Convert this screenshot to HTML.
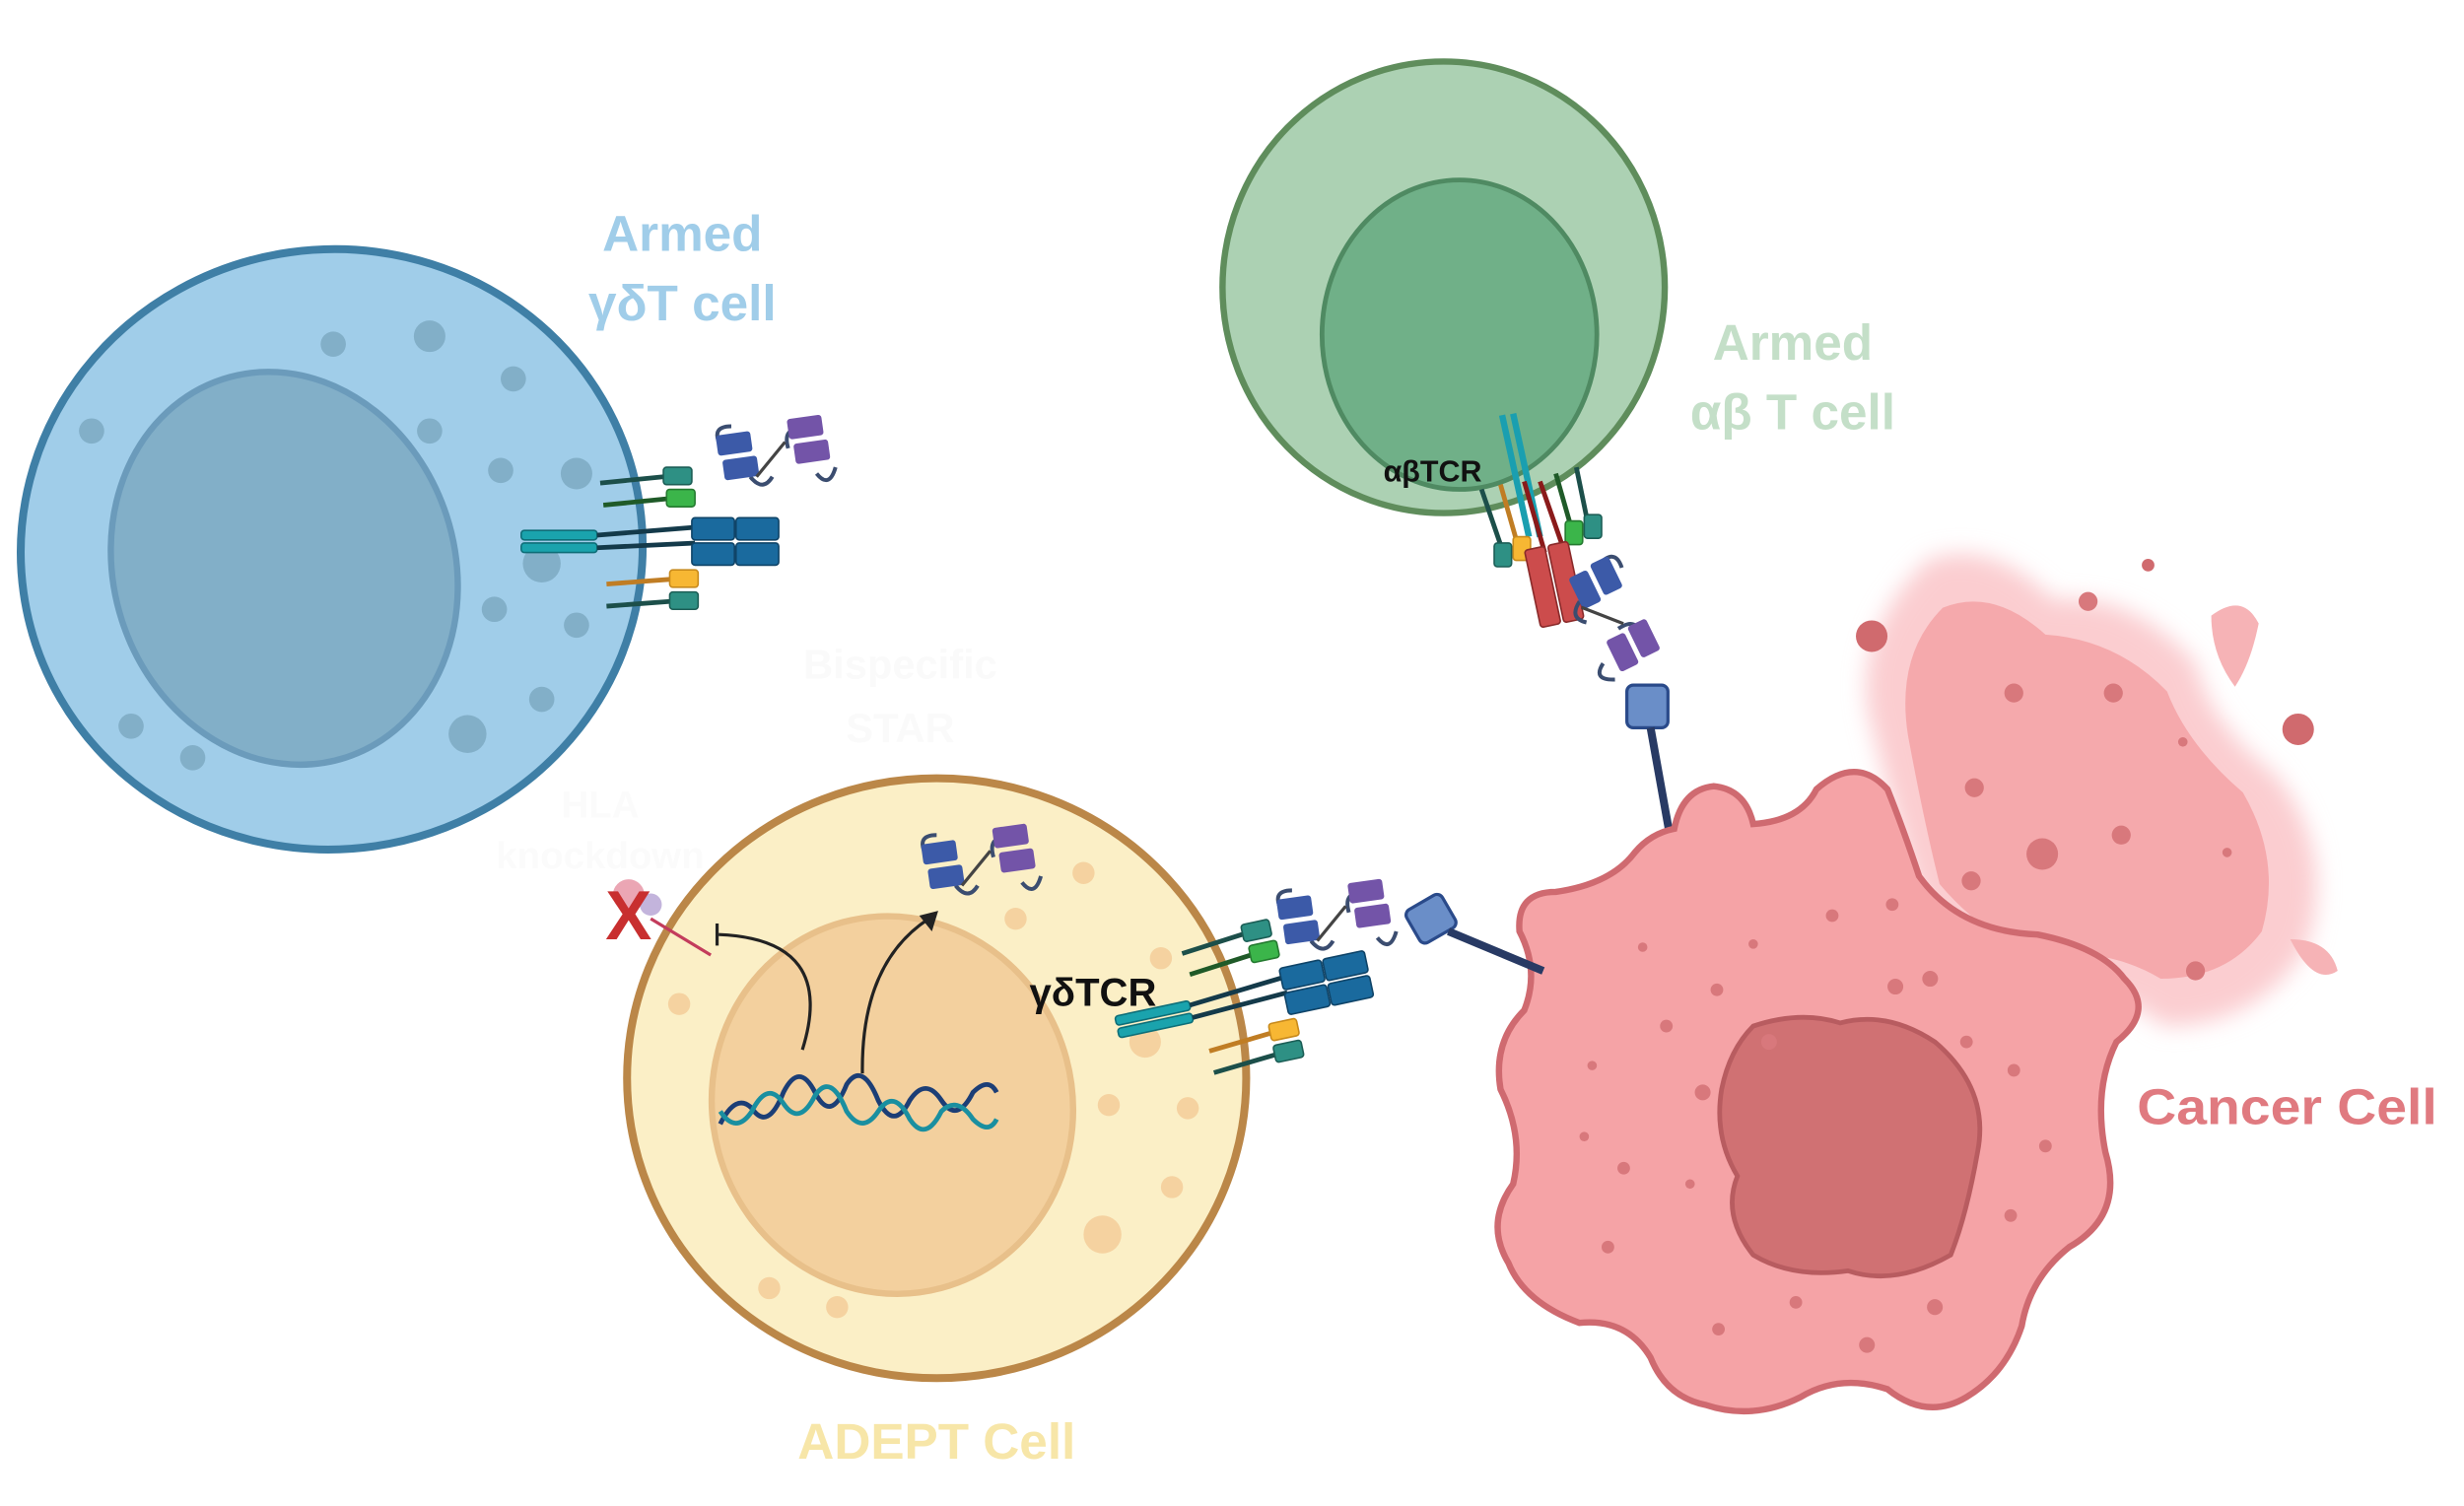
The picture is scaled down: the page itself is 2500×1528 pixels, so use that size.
<!DOCTYPE html>
<html><head><meta charset="utf-8"><style>
html,body{margin:0;padding:0;background:#fff;width:2500px;height:1528px;overflow:hidden}
svg{display:block}
text{font-family:"Liberation Sans",sans-serif;font-weight:bold}
</style></head><body>
<svg width="2500" height="1528" viewBox="0 0 1560 954" preserveAspectRatio="none" xmlns="http://www.w3.org/2000/svg">
<defs>
<filter id="glow" x="-20%" y="-20%" width="140%" height="140%"><feGaussianBlur stdDeviation="7"/></filter>
<g id="bispec">
<path d="M4 8 q-8 -14 6 -14 M22 26 q8 10 14 0 M46 8 q-4 -14 10 -12 M64 24 q8 10 12 -4" fill="none" stroke="#3b4d70" stroke-width="2.5"/>
<rect x="0" y="0" width="22" height="13" rx="2" fill="#3c5aa8" transform="rotate(-8)"/>
<rect x="2" y="16" width="22" height="13" rx="2" fill="#3c5aa8" transform="rotate(-8)"/>
<line x1="26" y1="26" x2="44" y2="4" stroke="#444" stroke-width="2"/>
<rect x="46" y="-4" width="22" height="13" rx="2" fill="#7354a8" transform="rotate(-8)"/>
<rect x="48" y="12" width="22" height="13" rx="2" fill="#7354a8" transform="rotate(-8)"/>
</g>
<g id="tcr">
<line x1="0" y1="0" x2="40" y2="-4" stroke="#1c4f4a" stroke-width="3"/>
<rect x="40" y="-10" width="18" height="11" rx="2" fill="#2e9084" stroke="#1c5e56"/>
<line x1="2" y1="14" x2="42" y2="10" stroke="#1f5a28" stroke-width="3"/>
<rect x="42" y="4" width="18" height="11" rx="2" fill="#3bb54a" stroke="#257a30"/>
<rect x="-50" y="30" width="48" height="6" rx="2" fill="#1aa3ad" stroke="#0e6e78"/>
<rect x="-50" y="38" width="48" height="6" rx="2" fill="#1aa3ad" stroke="#0e6e78"/>
<line x1="-2" y1="33" x2="60" y2="28" stroke="#143a4a" stroke-width="3"/>
<line x1="-2" y1="41" x2="60" y2="38" stroke="#143a4a" stroke-width="3"/>
<rect x="58" y="22" width="27" height="14" rx="2" fill="#1a6a9e" stroke="#0f4468"/>
<rect x="86" y="22" width="27" height="14" rx="2" fill="#1a6a9e" stroke="#0f4468"/>
<rect x="58" y="38" width="27" height="14" rx="2" fill="#1a6a9e" stroke="#0f4468"/>
<rect x="86" y="38" width="27" height="14" rx="2" fill="#1a6a9e" stroke="#0f4468"/>
<line x1="4" y1="64" x2="44" y2="61" stroke="#c07d24" stroke-width="3"/>
<rect x="44" y="55" width="18" height="11" rx="2" fill="#f7b733" stroke="#c88a1c"/>
<line x1="4" y1="78" x2="44" y2="75" stroke="#1c4f4a" stroke-width="3"/>
<rect x="44" y="69" width="18" height="11" rx="2" fill="#2e9084" stroke="#1c5e56"/>
</g>
</defs>

<!-- faint white arrows/text -->
<text x="570" y="430" font-size="26" fill="#fafafa" text-anchor="middle">Bispecific</text>
<text x="570" y="470" font-size="26" fill="#fafafa" text-anchor="middle">STAR</text>
<text x="380" y="518" font-size="24" fill="#fbfbfb" text-anchor="middle">HLA</text>
<text x="380" y="550" font-size="24" fill="#fbfbfb" text-anchor="middle">knockdown</text>

<!-- Blue cell -->
<ellipse cx="210" cy="348" rx="197" ry="190" fill="#a0cde9" stroke="#3f7fa6" stroke-width="5" transform="rotate(-8 210 348)"/>
<ellipse cx="180" cy="360" rx="108" ry="126" fill="#82afc8" stroke="#6b9bbb" stroke-width="4" transform="rotate(-18 180 360)"/>
<g fill="#82afc8">
<circle cx="211" cy="218" r="8"/><circle cx="272" cy="213" r="10"/><circle cx="325" cy="240" r="8"/><circle cx="58" cy="273" r="8"/>
<circle cx="272" cy="273" r="8"/><circle cx="317" cy="298" r="8"/><circle cx="365" cy="300" r="10"/><circle cx="343" cy="357" r="12"/>
<circle cx="313" cy="386" r="8"/><circle cx="365" cy="396" r="8"/><circle cx="343" cy="443" r="8"/><circle cx="296" cy="465" r="12"/>
<circle cx="83" cy="460" r="8"/><circle cx="122" cy="480" r="8"/></g>
<use href="#tcr" x="380" y="306"/>
<use href="#bispec" x="453" y="276"/>

<!-- Green cell -->
<ellipse cx="914" cy="182" rx="140" ry="143" fill="#acd1b3" stroke="#5f8d5c" stroke-width="4"/>
<ellipse cx="924" cy="212" rx="87" ry="98" fill="#70b088" stroke="#4f8a62" stroke-width="3"/>
<text x="907" y="305" font-size="19" fill="#111" text-anchor="middle">αβTCR</text>
<g stroke-width="3">
<line x1="951" y1="263" x2="968" y2="340" stroke="#1a9fb0" stroke-width="4"/>
<line x1="958" y1="262" x2="975" y2="340" stroke="#1a9fb0" stroke-width="4"/>
<line x1="938" y1="310" x2="950" y2="345" stroke="#1c4f4a"/>
<line x1="950" y1="307" x2="960" y2="342" stroke="#c07d24"/>
<line x1="965" y1="305" x2="978" y2="350" stroke="#8a1a1a"/>
<line x1="975" y1="305" x2="990" y2="348" stroke="#8a1a1a"/>
<line x1="985" y1="300" x2="995" y2="335" stroke="#1f5a28"/>
<line x1="998" y1="296" x2="1005" y2="330" stroke="#1c4f4a"/>
</g>
<rect x="946" y="344" width="11" height="15" rx="2" fill="#2e9084" stroke="#1c5e56"/>
<rect x="958" y="340" width="11" height="15" rx="2" fill="#f7b733" stroke="#c88a1c"/>
<rect x="991" y="330" width="11" height="15" rx="2" fill="#3bb54a" stroke="#257a30"/>
<rect x="1003" y="326" width="11" height="15" rx="2" fill="#2e9084" stroke="#1c5e56"/>
<g transform="rotate(-12 985 370)">
<rect x="970" y="345" width="13" height="50" rx="2" fill="#cc4c4c" stroke="#8a2a2a"/>
<rect x="985" y="345" width="13" height="50" rx="2" fill="#cc4c4c" stroke="#8a2a2a"/>
</g>
<g transform="translate(1018 352) rotate(72)"><use href="#bispec" x="0" y="0"/></g>
<rect x="1030" y="434" width="26" height="27" rx="4" fill="#6a8ec8" stroke="#2a4a8a" stroke-width="2"/>
<line x1="1045" y1="461" x2="1057" y2="528" stroke="#283a64" stroke-width="5"/>

<!-- dying cancer blob -->
<path d="M1220 355 Q1260 340 1300 380 Q1350 375 1390 420 Q1400 460 1440 490 Q1480 540 1460 600 Q1430 650 1370 650 Q1340 625 1290 630 Q1245 615 1215 570 Q1200 520 1185 460 Q1170 405 1220 355Z" fill="#fbcdd0" filter="url(#glow)"/>
<path d="M1230 385 Q1262 372 1295 402 Q1340 405 1372 438 Q1385 472 1420 502 Q1445 545 1432 590 Q1410 620 1368 620 Q1335 600 1290 605 Q1255 592 1228 560 Q1218 520 1208 466 Q1200 415 1230 385Z" fill="#f5a9ac"/>
<circle cx="1185" cy="403" r="10" fill="#d06a6e"/><circle cx="1360" cy="358" r="4" fill="#d06a6e"/>
<circle cx="1455" cy="462" r="10" fill="#d06a6e"/>
<path d="M1400 390 q20 -15 30 5 q-5 25 -15 40 q-15 -20 -15 -45z" fill="#f6b3b6"/>
<path d="M1450 595 q25 0 30 20 q-15 10 -30 -20z" fill="#f6b3b6"/>
<g fill="#d8787c"><circle cx="1322" cy="381" r="6"/><circle cx="1275" cy="439" r="6"/><circle cx="1338" cy="439" r="6"/>
<circle cx="1250" cy="499" r="6"/><circle cx="1293" cy="541" r="10"/><circle cx="1343" cy="529" r="6"/><circle cx="1248" cy="558" r="6"/>
<circle cx="1258" cy="595" r="6"/><circle cx="1390" cy="615" r="6"/><circle cx="1382" cy="470" r="3"/><circle cx="1410" cy="540" r="3"/></g>

<!-- Cancer cell -->
<path d="M1060 525 Q1065 500 1085 498 Q1105 500 1110 522 Q1140 520 1150 500 Q1175 478 1195 500 Q1205 525 1215 555 Q1240 590 1290 592 Q1330 600 1345 620 Q1365 640 1340 660 Q1325 690 1333 730 Q1345 770 1310 790 Q1285 810 1280 840 Q1270 870 1245 885 Q1220 900 1195 880 Q1165 870 1140 885 Q1110 900 1080 890 Q1055 885 1045 860 Q1030 835 1000 838 Q965 825 955 800 Q940 775 958 750 Q965 720 950 690 Q945 660 965 640 Q975 615 962 590 Q960 565 985 565 Q1020 560 1035 540 Q1045 528 1060 525Z" fill="#f5a3a6" stroke="#cf6a70" stroke-width="4"/>
<path d="M1110 650 Q1140 640 1165 648 Q1195 640 1225 660 Q1260 690 1252 730 Q1245 770 1235 795 Q1200 815 1170 805 Q1135 810 1110 795 Q1090 770 1100 745 Q1085 720 1090 690 Q1095 665 1110 650Z" fill="#d07173" stroke="#b85c60" stroke-width="3"/>
<g fill="#d8787c"><circle cx="1160" cy="580" r="4"/><circle cx="1198" cy="573" r="4"/><circle cx="1087" cy="627" r="4"/><circle cx="1120" cy="660" r="5"/>
<circle cx="1055" cy="650" r="4"/><circle cx="1008" cy="675" r="3"/><circle cx="1078" cy="692" r="5"/><circle cx="1003" cy="720" r="3"/>
<circle cx="1028" cy="740" r="4"/><circle cx="1070" cy="750" r="3"/><circle cx="1018" cy="790" r="4"/><circle cx="1088" cy="842" r="4"/>
<circle cx="1137" cy="825" r="4"/><circle cx="1182" cy="852" r="5"/><circle cx="1225" cy="828" r="5"/><circle cx="1273" cy="770" r="4"/>
<circle cx="1295" cy="726" r="4"/><circle cx="1275" cy="678" r="4"/><circle cx="1222" cy="620" r="5"/><circle cx="1245" cy="660" r="4"/>
<circle cx="1200" cy="625" r="5"/><circle cx="1110" cy="598" r="3"/><circle cx="1040" cy="600" r="3"/></g>

<!-- ADEPT cell -->
<ellipse cx="593" cy="683" rx="196" ry="190" fill="#fbefc6" stroke="#bb8748" stroke-width="5"/>
<ellipse cx="565" cy="700" rx="114" ry="120" fill="#f3d09e" stroke="#e8c08a" stroke-width="4" transform="rotate(-15 565 700)"/>
<g fill="#f5d2a0"><circle cx="686" cy="553" r="7"/><circle cx="643" cy="582" r="7"/><circle cx="430" cy="636" r="7"/><circle cx="735" cy="607" r="7"/>
<circle cx="725" cy="660" r="10"/><circle cx="702" cy="700" r="7"/><circle cx="752" cy="702" r="7"/><circle cx="742" cy="752" r="7"/>
<circle cx="698" cy="782" r="12"/><circle cx="487" cy="816" r="7"/><circle cx="530" cy="828" r="7"/></g>
<use href="#bispec" x="583" y="535"/>
<path d="M508 665 Q530 595 455 592" fill="none" stroke="#222" stroke-width="2"/>
<line x1="454" y1="585" x2="454" y2="599" stroke="#222" stroke-width="2"/>
<path d="M546 680 Q545 610 588 582" fill="none" stroke="#222" stroke-width="2"/>
<polygon points="594,577 582,580 590,590" fill="#222"/>
<path d="M456 712 q10 -20 20 -10 q10 15 20 -10 q10 -20 20 0 q10 20 20 -5 q10 -15 20 10 q10 20 20 0 q10 -15 20 0 q10 15 20 -5 q10 -10 15 0" fill="none" stroke="#1c3e76" stroke-width="3"/>
<path d="M456 704 q10 15 20 0 q10 -20 20 -5 q10 15 20 -5 q10 -15 20 10 q10 15 20 0 q10 -15 20 5 q10 15 20 -5 q10 -10 20 5 q10 10 15 0" fill="none" stroke="#1a8fa0" stroke-width="3"/>
<!-- HLA X -->
<circle cx="398" cy="567" r="10" fill="#eba6b4"/><circle cx="412" cy="573" r="7" fill="#c3b4dc"/>
<line x1="412" y1="582" x2="450" y2="605" stroke="#c33c5c" stroke-width="2"/>
<text x="398" y="595" font-size="44" fill="#c82f2f" text-anchor="middle">X</text>
<text x="692" y="637" font-size="25" fill="#111" text-anchor="middle">γδTCR</text>
<g transform="rotate(-12 760 620)"><use href="#tcr" x="752" y="602"/></g>
<use href="#bispec" x="808" y="570"/>
<rect x="893" y="570" width="26" height="24" rx="4" fill="#6a8ec8" stroke="#2a4a8a" stroke-width="2" transform="rotate(-30 906 582)"/>
<line x1="917" y1="590" x2="977" y2="615" stroke="#283a64" stroke-width="5"/>

<!-- labels -->
<text x="432" y="159" font-size="32" fill="#a0cde9" text-anchor="middle">Armed</text>
<text x="432" y="203" font-size="32" fill="#a0cde9" text-anchor="middle">γδT cell</text>
<text x="1135" y="228" font-size="32" fill="#c4dfc8" text-anchor="middle">Armed</text>
<text x="1135" y="272" font-size="32" fill="#c4dfc8" text-anchor="middle">αβ T cell</text>
<text x="1448" y="712" font-size="32" fill="#e07a80" text-anchor="middle" textLength="190" lengthAdjust="spacingAndGlyphs">Cancer Cell</text>
<text x="593" y="924" font-size="32" fill="#f7e6a8" text-anchor="middle">ADEPT Cell</text>
</svg>
</body></html>
